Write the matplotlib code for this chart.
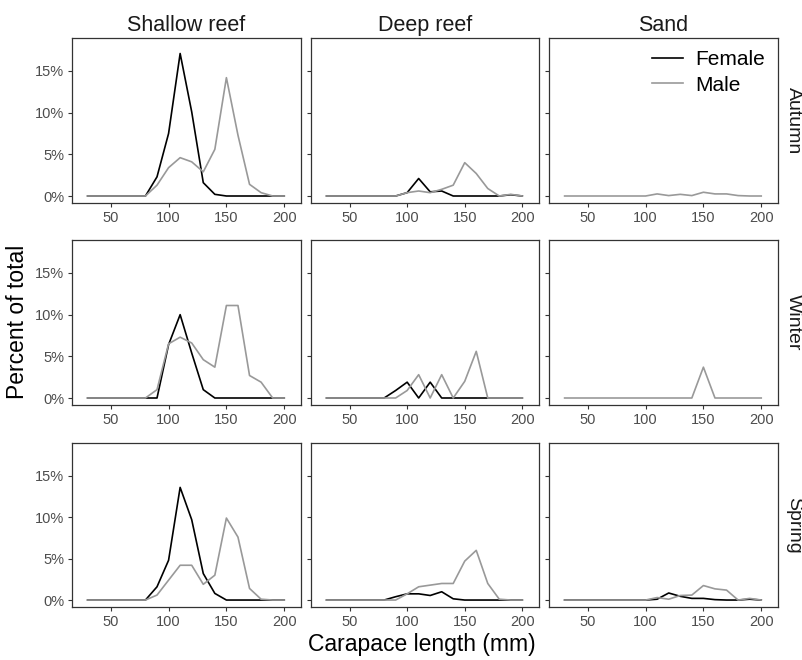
import numpy as np
import matplotlib
matplotlib.use("Agg")
import matplotlib.pyplot as plt
from matplotlib.ticker import FuncFormatter

plt.rcParams['font.family'] = ['Liberation Sans', 'DejaVu Sans']

lengths = list(range(30, 210, 10))  # 30..200 mm
habitats = ["Shallow reef", "Deep reef", "Sand"]
seasons = ["Autumn", "Winter", "Spring"]

def pad(d):
    return [d.get(x, 0.0) for x in lengths]

NONE = None  # no females recorded in that panel

# Autumn
aut_shallow_f = pad({90: 2.3, 100: 7.5, 110: 17.1, 120: 10.1, 130: 1.6, 140: 0.2})
aut_shallow_m = pad({90: 1.3, 100: 3.4, 110: 4.6, 120: 4.1, 130: 2.9, 140: 5.6, 150: 14.2, 160: 7.3, 170: 1.4, 180: 0.4})
aut_deep_f = pad({100: 0.4, 110: 2.1, 120: 0.5, 130: 0.6, 190: 0.15})
aut_deep_m = pad({100: 0.4, 110: 0.6, 120: 0.4, 130: 0.8, 140: 1.3, 150: 4.0, 160: 2.7, 170: 0.9, 190: 0.2})
aut_sand_f = NONE
aut_sand_m = pad({110: 0.25, 120: 0.05, 130: 0.2, 140: 0.05, 150: 0.45, 160: 0.25, 170: 0.25, 180: 0.05})

# Winter
win_shallow_f = pad({100: 6.4, 110: 10.0, 120: 5.4, 130: 1.0})
win_shallow_m = pad({90: 1.0, 100: 6.5, 110: 7.3, 120: 6.6, 130: 4.6, 140: 3.7, 150: 11.1, 160: 11.1, 170: 2.7, 180: 1.9})
win_deep_f = pad({90: 0.9, 100: 1.9, 120: 1.9})
win_deep_m = pad({100: 0.9, 110: 2.8, 130: 2.8, 150: 2.0, 160: 5.6})
win_sand_f = NONE
win_sand_m = pad({150: 3.7})

# Spring
spr_shallow_f = pad({90: 1.6, 100: 4.8, 110: 13.6, 120: 9.7, 130: 3.2, 140: 0.8})
spr_shallow_m = pad({90: 0.6, 100: 2.4, 110: 4.2, 120: 4.2, 130: 1.9, 140: 3.0, 150: 9.9, 160: 7.6, 170: 1.4, 180: 0.1})
spr_deep_f = pad({90: 0.4, 100: 0.75, 110: 0.75, 120: 0.55, 130: 1.0, 140: 0.15})
spr_deep_m = pad({100: 0.75, 110: 1.6, 120: 1.8, 130: 2.0, 140: 2.0, 150: 4.7, 160: 6.0, 170: 2.0, 180: 0.1})
spr_sand_f = pad({110: 0.1, 120: 0.85, 130: 0.45, 140: 0.2, 150: 0.2, 160: 0.05, 190: 0.1})
spr_sand_m = pad({110: 0.3, 120: 0.1, 130: 0.55, 140: 0.6, 150: 1.75, 160: 1.35, 170: 1.2, 190: 0.2})

female = [[aut_shallow_f, aut_deep_f, aut_sand_f],
          [win_shallow_f, win_deep_f, win_sand_f],
          [spr_shallow_f, spr_deep_f, spr_sand_f]]
male = [[aut_shallow_m, aut_deep_m, aut_sand_m],
        [win_shallow_m, win_deep_m, win_sand_m],
        [spr_shallow_m, spr_deep_m, spr_sand_m]]

W, H = 803, 660
fig = plt.figure(figsize=(W / 100, H / 100), dpi=100)

xs = [(72, 301), (311, 539), (549, 778)]
ys = [(38, 203), (240, 405), (443, 607)]

for r in range(3):
    for c in range(3):
        x0, x1 = xs[c]
        y0, y1 = ys[r]
        ax = fig.add_axes([x0 / W, 1 - y1 / H, (x1 - x0) / W, (y1 - y0) / H])
        if female[r][c] is not None:
            ax.plot(lengths, female[r][c], color="black", lw=1.2, label="Female")
        else:
            ax.plot([], [], color="black", lw=1.2, label="Female")
        ax.plot(lengths, male[r][c], color="#999999", lw=1.2, label="Male")
        ax.set_xlim(16.5, 214.5)
        ax.set_ylim(-0.84, 18.96)
        ax.set_xticks([50, 100, 150, 200])
        ax.set_yticks([0, 5, 10, 15])
        ax.yaxis.set_major_formatter(FuncFormatter(lambda v, p: f"{int(v)}%"))
        ax.tick_params(axis="both", colors="#333333", labelcolor="#4D4D4D",
                       labelsize=10.5, length=3, width=0.8, pad=2.5)
        if c != 0:
            ax.set_yticklabels([])
        for s in ax.spines.values():
            s.set_color("#333333")
            s.set_linewidth(0.9)
        if r == 0:
            ax.set_title(habitats[c], fontsize=15.5, pad=5, color="#1A1A1A")
        if c == 2:
            fig.text(785 / W, 1 - (y0 + y1) / 2 / H, seasons[r], rotation=-90,
                     ha="left", va="center", fontsize=14, color="#1A1A1A")
        if r == 0 and c == 2:
            ax.legend(loc="upper right", frameon=False, fontsize=15,
                      handlelength=1.5, handletextpad=0.6,
                      borderaxespad=0.2, labelspacing=0.3)

fig.text(18 / W, 1 - 322 / H, "Percent of total", rotation=90, ha="center",
         va="center", fontsize=16.5)
fig.text(422 / W, 1 - 645 / H, "Carapace length (mm)", ha="center",
         va="center", fontsize=16.5)

fig.savefig("out.png", dpi=100)
